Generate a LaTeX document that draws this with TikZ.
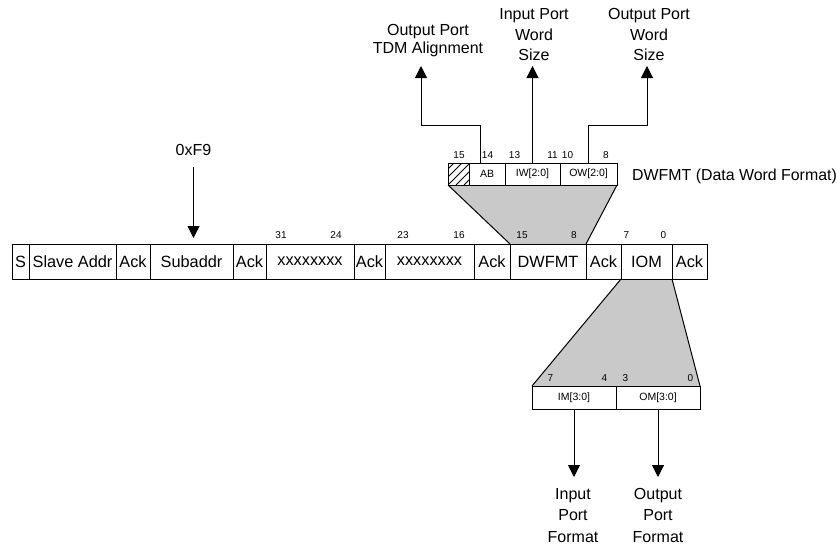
\documentclass[tikz,border=0pt]{standalone}
\usepackage{fontspec}
\setmainfont{Liberation Sans}
\usetikzlibrary{arrows.meta,calc}
\pgfdeclarelayer{background}
\pgfsetlayers{background,main}
\begin{document}
\begin{tikzpicture}[x=1pt,y=-1pt,
  cell/.style={draw, line width=1pt, inner sep=0pt, outer sep=0pt, minimum height=35pt, font=\fontsize{16.3}{18}\selectfont},
  reg/.style={draw, line width=1pt, inner sep=0pt, outer sep=0pt, font=\fontsize{10.5}{12}\selectfont},
  bit/.style={inner sep=0pt, font=\fontsize{10}{11}\selectfont},
  lbl/.style={inner sep=0pt, align=center, font=\fontsize{16}{20.5}\selectfont},
  arr/.style={line width=1pt, -{Triangle[width=12pt,length=12pt]}},
  trapfill/.style={fill=black!21},
  trapedge/.style={line width=1pt}
]
\useasboundingbox (0,0) rectangle (837,547);

% main row
\node[cell, minimum width=17pt] (s) at (20.5,261.5) {S};
\node[cell, minimum width=87pt] (sa) at (72.5,261.5) {Slave Addr};
\node[cell, minimum width=34pt] (ack1) at (133,261.5) {Ack};
\node[cell, minimum width=83pt] (sub) at (191.5,261.5) {Subaddr};
\node[cell, minimum width=33pt] (ack2) at (249.5,261.5) {Ack};
\node[cell, minimum width=88pt] (x1) at (310,261.5) {xxxxxxxx};
\node[cell, minimum width=31pt] (ack3) at (369.5,261.5) {Ack};
\node[cell, minimum width=89pt] (x2) at (429.5,261.5) {xxxxxxxx};
\node[cell, minimum width=36pt] (ack4) at (492,261.5) {Ack};
\node[cell, minimum width=76pt] (dw) at (548,261.5) {DWFMT};
\node[cell, minimum width=35pt] (ack5) at (603.5,261.5) {Ack};
\node[cell, minimum width=51pt] (iom) at (646.5,261.5) {IOM};
\node[cell, minimum width=35pt] (ack6) at (689.5,261.5) {Ack};

% main row bit numbers
\node[bit] (m31) at (281,235.5) {31};
\node[bit] (m24) at (336,235.5) {24};
\node[bit] (m23) at (403,235.5) {23};
\node[bit] (m16) at (459,235.5) {16};
\node[bit] (m15) at (522,235.5) {15};
\node[bit] (m8) at (574,235.5) {8};
\node[bit] (m7) at (626.5,235.5) {7};
\node[bit] (m0) at (663.5,235.5) {0};

% DWFMT register
\node[reg, minimum width=21pt, minimum height=22pt] (hatch) at (458.5,174) {};
\node[reg, minimum width=36pt, minimum height=22pt] (ab) at (487,174) {AB};
\node[reg, minimum width=55pt, minimum height=22pt] (iw) at (532.5,174) {IW[2:0]};
\node[reg, minimum width=57pt, minimum height=22pt] (ow) at (588.5,174) {OW[2:0]};
\begin{scope}
  \clip (hatch.north west) rectangle (hatch.south east);
  \foreach \k in {-16,-8,0,8,16}
    \draw[line width=0.9pt] ($(hatch.south west)+(\k,0)$) -- ++(24,-24);
\end{scope}
\node[bit] (t15) at (459,155.5) {15};
\node[bit] (t14) at (487.5,155.5) {14};
\node[bit] (t13) at (514.5,155.5) {13};
\node[bit] (t11) at (552.5,155.5) {11};
\node[bit] (t10) at (567.5,155.5) {10};
\node[bit] (t8) at (606,155.5) {8};
\node[anchor=base west, inner sep=0pt, font=\fontsize{15.9}{18}\selectfont] (dwl) at (632,180) {DWFMT (Data Word Format)};

% IOM register
\node[reg, minimum width=84pt, minimum height=23pt] (im) at (574,397.5) {IM[3:0]};
\node[reg, minimum width=84pt, minimum height=23pt] (om) at (658,397.5) {OM[3:0]};
\node[bit] (b7) at (550.5,378) {7};
\node[bit] (b4) at (604.5,378) {4};
\node[bit] (b3) at (625.5,378) {3};
\node[bit] (b0) at (690.5,378) {0};

% trapezoids
\begin{pgfonlayer}{background}
  \fill[trapfill] (hatch.south west) -- (ow.south east) -- (dw.north east) -- (dw.north west) -- cycle;
  \fill[trapfill] (iom.south west) -- (iom.south east) -- (om.north east) -- (im.north west) -- cycle;
\end{pgfonlayer}
\draw[trapedge] (hatch.south west) -- (dw.north west);
\draw[trapedge] (ow.south east) -- (dw.north east);
\draw[trapedge] (iom.south west) -- (im.north west);
\draw[trapedge] (iom.south east) -- (om.north east);

% top labels and arrows
\node[lbl, font=\fontsize{16}{18}\selectfont, anchor=south, outer sep=9pt] (tdm) at (428,66) {Output Port\\TDM Alignment};
\node[lbl, anchor=south, outer sep=5pt] (iwl) at (534,66) {Input Port\\Word\\Size};
\node[lbl, anchor=south, outer sep=5pt] (owl) at (649,66) {Output Port\\Word\\Size};
\draw[arr] ([xshift=11pt]ab.north west) -- ++(0,-38) -| ([xshift=-7pt]tdm.south);
\draw[arr] (iw.north) -- (iw.north |- iwl.south);
\draw[arr] (ow.north) -- ++(0,-38) -| ([xshift=-2pt]owl.south);

% 0xF9
\node[lbl, anchor=base] (hex) at (193.5,155) {0xF9};
\draw[arr, shorten <=12pt, shorten >=6pt] (hex.south) -- (hex.south |- sub.north);

% bottom labels and arrows
\node[lbl, font=\fontsize{16}{21.5}\selectfont, anchor=north, outer sep=11pt] (inf) at (573,477) {Input\\Port\\Format};
\node[lbl, font=\fontsize{16}{21.5}\selectfont, anchor=north, outer sep=11pt] (outf) at (658,477) {Output\\Port\\Format};
\draw[arr] (im.south) -- (im.south |- inf.north);
\draw[arr] (om.south) -- (om.south |- outf.north);
\end{tikzpicture}
\end{document}
